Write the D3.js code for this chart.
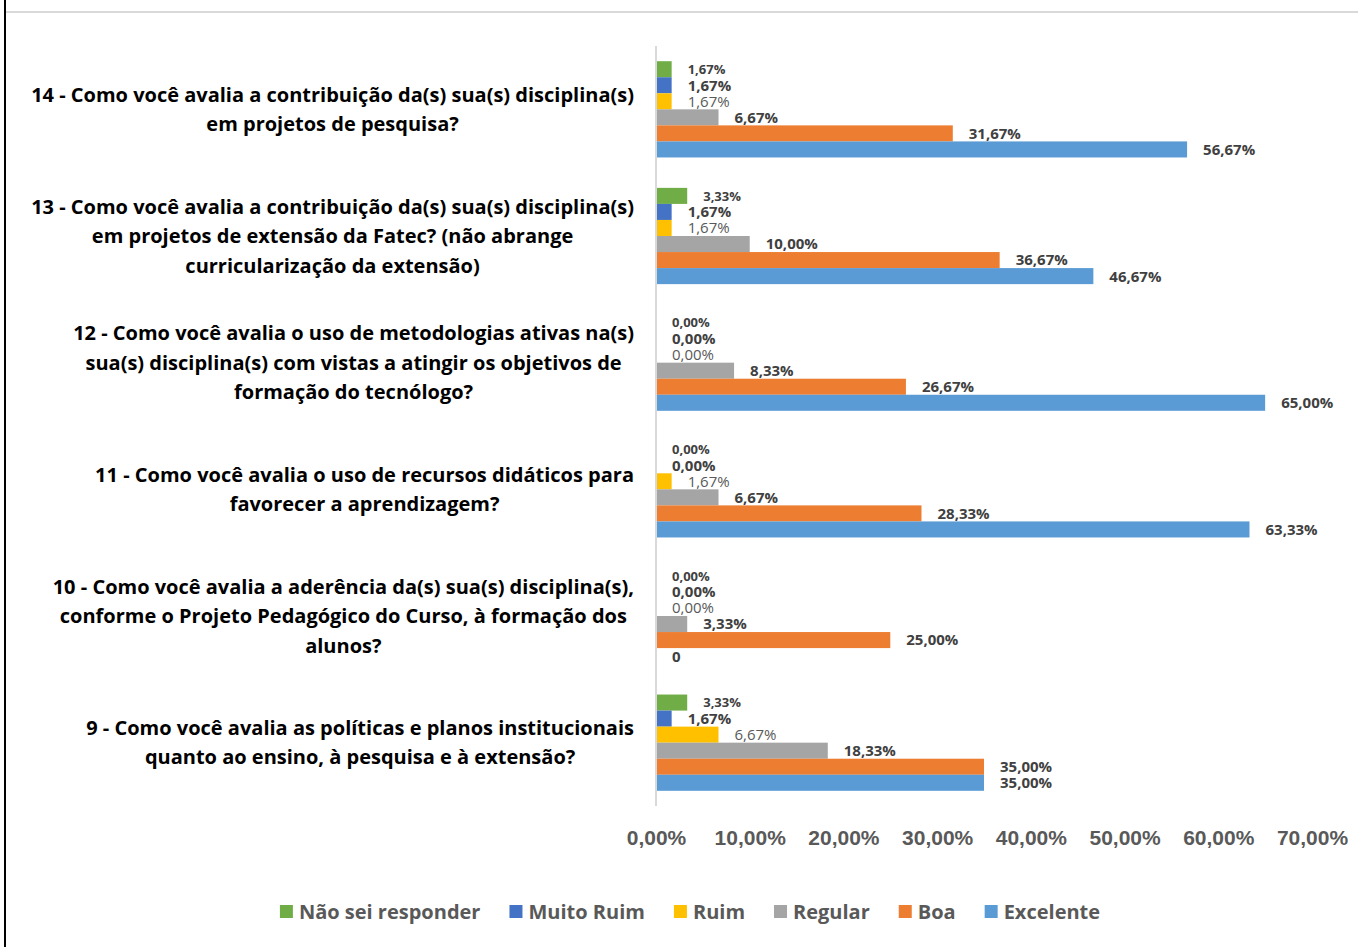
<!DOCTYPE html>
<html>
<head>
<meta charset="utf-8">
<script src="https://cdn.jsdelivr.net/npm/d3@7"></script>
<style>
  body { margin: 0; background: #fff; }
  svg { display: block; font-family: "Open Sans", Lato, sans-serif; }
</style>
</head>
<body>
<div class="chart"></div>
<script>
var questions = [
  ['14 - Como você avalia a contribuição da(s) sua(s) disciplina(s)', 'em projetos de pesquisa?'],
  ['13 - Como você avalia a contribuição da(s) sua(s) disciplina(s)', 'em projetos de extensão da Fatec? (não abrange', 'curricularização da extensão)'],
  ['12 - Como você avalia o uso de metodologias ativas na(s)', 'sua(s) disciplina(s) com vistas a atingir os objetivos de', 'formação do tecnólogo?'],
  ['11 - Como você avalia o uso de recursos didáticos para', 'favorecer a aprendizagem?'],
  ['10 - Como você avalia a aderência da(s) sua(s) disciplina(s),', 'conforme o Projeto Pedagógico do Curso, à formação dos', 'alunos?'],
  ['9 - Como você avalia as políticas e planos institucionais', 'quanto ao ensino, à pesquisa e à extensão?']
];
var series = ['Não sei responder', 'Muito Ruim', 'Ruim', 'Regular', 'Boa', 'Excelente'];
var colors = ['#70AD47', '#4472C4', '#FFC000', '#A5A5A5', '#ED7D31', '#5B9BD5'];

// percentages per question, top (14) to bottom (9)
var naoSei    = [1.67, 3.33, 0, 0, 0, 3.33];
var muitoRuim = [1.67, 1.67, 0, 0, 0, 1.67];
var ruim      = [1.67, 1.67, 0, 1.67, 0, 6.67];
var regular   = [6.67, 10.00, 8.33, 6.67, 3.33, 18.33];
var boa       = [31.67, 36.67, 26.67, 28.33, 25.00, 35.00];
var excelente = [56.67, 46.67, 65.00, 63.33, null, 35.00]; // q10 shows "0"
var ticks = [0, 10, 20, 30, 40, 50, 60, 70];

var values = [naoSei, muitoRuim, ruim, regular, boa, excelente];

var width = 1358, height = 947;
var svg = d3.select('.chart').append('svg')
  .attr('width', width)
  .attr('height', height);

// frame lines
svg.append('line').attr('x1', 5).attr('x2', 5).attr('y1', 0).attr('y2', height)
  .attr('stroke', '#000').attr('stroke-width', 2);
svg.append('line').attr('x1', 6).attr('x2', width).attr('y1', 12).attr('y2', 12)
  .attr('stroke', '#d9d9d9').attr('stroke-width', 2);

var x = d3.scaleLinear().domain([0, 70]).range([656, 1312]);
var y = d3.scaleBand().domain(d3.range(questions.length))
  .range([46, 806]).paddingInner(0.24).paddingOuter(0.12);
var ySub = d3.scaleBand().domain(d3.range(series.length)).range([0, y.bandwidth()]);

var fmt = function(v) {
  if (v === null) return '0';
  return v.toFixed(2).replace('.', ',') + '%';
};

var groups = svg.selectAll('.grp')
  .data(questions)
  .enter()
  .append('g')
  .attr('class', 'grp')
  .attr('transform', (d, i) => `translate(0, ${y(i)})`);

groups.each(function(q, qi) {
  var g = d3.select(this);
  series.forEach(function(s, si) {
    var v = values[si][qi];
    var val = v === null ? 0 : v;
    g.append('rect')
      .attr('x', x(0))
      .attr('y', ySub(si))
      .attr('width', x(val) - x(0))
      .attr('height', ySub.bandwidth())
      .attr('fill', colors[si]);
    g.append('text')
      .attr('x', x(val) + 16)
      .attr('y', ySub(si) + ySub.bandwidth() / 2)
      .attr('dy', '0.36em')
      .attr('font-size', si === 0 ? 13 : 15)
      .attr('font-weight', si === 2 ? 'normal' : 'bold')
      .attr('fill', si === 2 ? '#595959' : '#404040')
      .text(fmt(v));
  });
});

// axis line
svg.append('line').attr('x1', x(0)).attr('x2', x(0)).attr('y1', 46).attr('y2', 806)
  .attr('stroke', '#d9d9d9').attr('stroke-width', 2);

// category labels
var labelRight = 634, lineH = 29.5;
questions.forEach(function(lines, qi) {
  var cy = y(qi) + y.bandwidth() / 2;
  var t = svg.append('text')
    .attr('font-size', 20)
    .attr('font-weight', 'bold')
    .attr('fill', '#000')
    .attr('text-anchor', 'middle');
  var spans = lines.map(function(l, li) {
    return t.append('tspan')
      .attr('y', cy + (li - (lines.length - 1) / 2) * lineH)
      .attr('dy', '0.35em')
      .text(l);
  });
  var maxW = d3.max(spans, s => s.node().getComputedTextLength());
  spans.forEach(s => s.attr('x', labelRight - maxW / 2));
});

// x tick labels
var xAxis = d3.axisBottom(x).tickValues(ticks)
  .tickFormat(d => d.toFixed(2).replace('.', ',') + '%')
  .tickSize(0).tickPadding(0);
var ax = svg.append('g').attr('transform', 'translate(0, 830)').call(xAxis);
ax.select('.domain').remove();
ax.selectAll('text')
  .attr('font-family', 'inherit')
  .attr('font-size', 21)
  .attr('font-weight', 'bold')
  .attr('fill', '#595959');

// legend
var legend = svg.append('g');
var lx = 0, gap = 29;
series.forEach(function(s, si) {
  var item = legend.append('g').attr('transform', `translate(${lx}, 0)`);
  item.append('rect').attr('x', 0).attr('y', 905).attr('width', 13).attr('height', 13)
    .attr('fill', colors[si]);
  var t = item.append('text').attr('x', 19).attr('y', 912).attr('dy', '0.35em')
    .attr('font-size', 20).attr('font-weight', 'bold').attr('fill', '#595959')
    .text(s);
  lx += 19 + t.node().getComputedTextLength() + gap;
});
lx -= gap;
legend.attr('transform', `translate(${690 - lx / 2}, 0)`);
</script>
</body>
</html>
